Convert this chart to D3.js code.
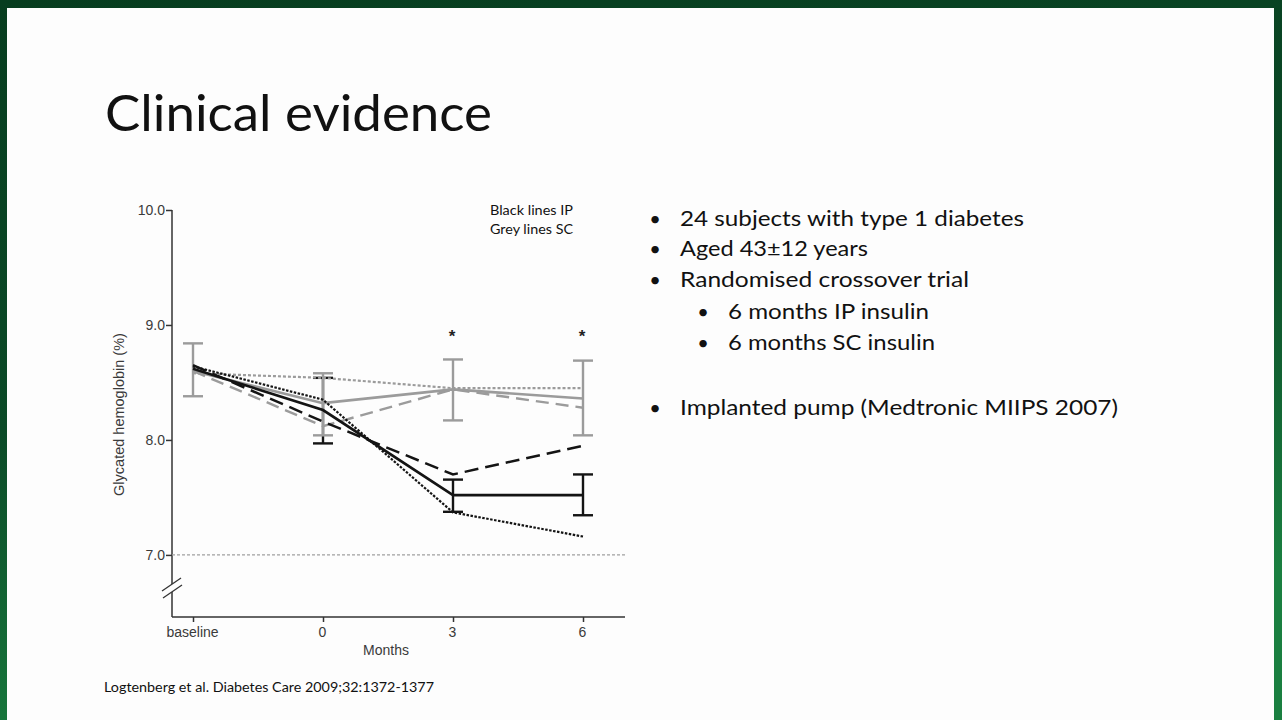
<!DOCTYPE html>
<html lang="en">
<head>
    <meta charset="UTF-8">
    <title>Clinical evidence</title>
    <script src="https://d3js.org/d3.v7.min.js"></script>
    <style>
        html, body { margin: 0; padding: 0; background: #0a4424; }
        svg { display: block; }
        .axis text { font-family: "Liberation Sans", Arial, sans-serif; font-size: 14px; fill: #3a3a3a; }
        .slide-text { font-family: Lato, "Open Sans", sans-serif; fill: #111; }
    </style>
</head>
<body>
    <svg width="1282" height="720"></svg>
    <script>
        // Data (HbA1c %, mean per timepoint)
        const timepoints = ["baseline", "0", "3", "6"];
        const yTicks = [7.0, 8.0, 9.0, 10.0];

        // IP = black lines
        const ipSolid  = [8.62, 8.26, 7.52, 7.52];
        const ipDashed = [8.65, 8.16, 7.70, 7.95];
        const ipDotted = [8.64, 8.35, 7.37, 7.16];
        const ipErrLow  = [null, 7.97, 7.375, 7.345];
        const ipErrHigh = [null, 8.54, 7.655, 7.70];

        // SC = grey lines
        const scSolid  = [8.60, 8.32, 8.44, 8.36];
        const scDashed = [8.60, 8.12, 8.44, 8.28];
        const scDotted = [8.58, 8.54, 8.45, 8.45];
        const scErrLow  = [8.38, 8.04, 8.17, 8.04];
        const scErrHigh = [8.84, 8.58, 8.70, 8.69];

        const significantAt = ["3", "6"];
        const referenceLevel = 7.0;

        const bullets = [
            "24 subjects with type 1 diabetes",
            "Aged 43\u00b112 years",
            "Randomised crossover trial",
            "6 months IP insulin",
            "6 months SC insulin",
            "Implanted pump (Medtronic MIIPS 2007)"
        ];

        const svg = d3.select("svg");

        // Slide background: green frame + white panel
        const defs = svg.append("defs");
        const grad = defs.append("linearGradient")
            .attr("id", "frame").attr("x1", 0).attr("y1", 0).attr("x2", 0.3).attr("y2", 1);
        grad.append("stop").attr("offset", "0%").attr("stop-color", "#073d1f");
        grad.append("stop").attr("offset", "55%").attr("stop-color", "#0b4a27");
        grad.append("stop").attr("offset", "100%").attr("stop-color", "#1a7f40");

        svg.append("rect").attr("width", 1282).attr("height", 720).attr("fill", "url(#frame)");
        svg.append("rect").attr("x", 7).attr("y", 8).attr("width", 1267).attr("height", 712).attr("fill", "#fdfdfd");

        // Title
        svg.append("text")
            .attr("class", "slide-text")
            .attr("x", 105).attr("y", 131)
            .attr("font-size", 51)
            .attr("textLength", 387).attr("lengthAdjust", "spacingAndGlyphs")
            .text("Clinical evidence");

        // Chart
        const xAxisY = 617, yAxisX = 172, xAxisEnd = 625;

        const x = d3.scalePoint()
            .domain(timepoints)
            .range([193, 583]);

        const y = d3.scaleLinear()
            .domain([6.46, 10])
            .range([xAxisY, 210]);

        const chart = svg.append("g");

        // Y axis
        const yAxis = chart.append("g")
            .attr("class", "axis")
            .attr("transform", `translate(${yAxisX},0)`)
            .call(d3.axisLeft(y).tickValues(yTicks).tickFormat(d3.format(".1f")).tickSize(6).tickSizeOuter(0));
        yAxis.select(".domain").remove();
        yAxis.selectAll(".tick line").attr("stroke", "#333").attr("stroke-width", 1.5);
        yAxis.selectAll(".tick text").attr("x", -7);
        chart.append("line")
            .attr("x1", yAxisX).attr("x2", yAxisX)
            .attr("y1", y(10)).attr("y2", xAxisY)
            .attr("stroke", "#333").attr("stroke-width", 1.5);

        // X axis
        const xAxis = chart.append("g")
            .attr("class", "axis")
            .attr("transform", `translate(0,${xAxisY})`)
            .call(d3.axisBottom(x).tickSize(5).tickSizeOuter(0));
        xAxis.select(".domain").remove();
        xAxis.selectAll(".tick line").attr("stroke", "#333").attr("stroke-width", 1.5);
        xAxis.selectAll(".tick text").attr("dy", "0.85em").attr("dx", "-1");
        chart.append("line")
            .attr("x1", yAxisX).attr("x2", xAxisEnd)
            .attr("y1", xAxisY).attr("y2", xAxisY)
            .attr("stroke", "#333").attr("stroke-width", 1.5);

        // Axis break on y axis
        chart.append("rect")
            .attr("x", yAxisX - 3).attr("y", 584).attr("width", 6).attr("height", 8)
            .attr("fill", "#fdfdfd");
        [[162, 591, 181, 578], [163, 598, 182, 585]].forEach(b => {
            chart.append("line")
                .attr("x1", b[0]).attr("y1", b[1]).attr("x2", b[2]).attr("y2", b[3])
                .attr("stroke", "#333").attr("stroke-width", 1.3);
        });

        // Axis titles
        chart.append("text")
            .attr("transform", `translate(124,${(y(10) + xAxisY) / 2 + 1}) rotate(-90)`)
            .attr("text-anchor", "middle")
            .attr("font-family", "'Liberation Sans', Arial, sans-serif")
            .attr("font-size", 14.5).attr("fill", "#3a3a3a")
            .text("Glycated hemoglobin (%)");

        chart.append("text")
            .attr("x", 386).attr("y", 655)
            .attr("text-anchor", "middle")
            .attr("font-family", "'Liberation Sans', Arial, sans-serif")
            .attr("font-size", 14).attr("fill", "#3a3a3a")
            .text("Months");

        // 7.0 target line
        chart.append("line")
            .attr("x1", yAxisX).attr("x2", xAxisEnd)
            .attr("y1", y(referenceLevel)).attr("y2", y(referenceLevel))
            .attr("stroke", "#a0a0a0").attr("stroke-width", 1.3)
            .attr("stroke-dasharray", "3,2");

        // Lines
        const line = d3.line()
            .x((d, i) => x(timepoints[i]))
            .y(d => y(d));

        const grey = "#9b9b9b", black = "#141414";

        function errorBars(lows, highs, color) {
            const g = chart.append("g").attr("stroke", color).attr("stroke-width", 2.4).attr("fill", "none");
            timepoints.forEach((t, i) => {
                if (lows[i] == null) return;
                const cx = x(t);
                g.append("line").attr("x1", cx).attr("x2", cx).attr("y1", y(lows[i])).attr("y2", y(highs[i]));
                g.append("line").attr("x1", cx - 10).attr("x2", cx + 10).attr("y1", y(lows[i])).attr("y2", y(lows[i]));
                g.append("line").attr("x1", cx - 10).attr("x2", cx + 10).attr("y1", y(highs[i])).attr("y2", y(highs[i]));
            });
        }

        function series(values, color, dash, width) {
            chart.append("path")
                .datum(values)
                .attr("fill", "none")
                .attr("stroke", color)
                .attr("stroke-width", width)
                .attr("stroke-dasharray", dash)
                .attr("d", line);
        }

        // error bars first (grey over black where they share a timepoint)
        errorBars(ipErrLow, ipErrHigh, black);
        errorBars(scErrLow, scErrHigh, grey);

        // SC (grey)
        series(scDotted, grey, "3,2", 2.2);
        series(scDashed, grey, "13,7", 2.4);
        series(scSolid, grey, null, 2.6);

        // IP (black)
        series(ipDotted, black, "2.5,1.5", 2.2);
        series(ipDashed, black, "14,7", 2.5);
        series(ipSolid, black, null, 2.6);

        // Significance markers
        chart.selectAll(".sig")
            .data(significantAt)
            .enter().append("text")
            .attr("class", "sig")
            .attr("x", d => x(d) - 1)
            .attr("y", y(8.92) + 8)
            .attr("text-anchor", "middle")
            .attr("font-family", "'Liberation Sans', Arial, sans-serif")
            .attr("font-size", 17).attr("font-weight", "bold").attr("fill", "#222")
            .text("*");

        // Legend note
        const note = chart.append("text")
            .attr("class", "slide-text")
            .attr("font-size", 13);
        note.append("tspan").attr("x", 490).attr("y", 215).attr("textLength", 83).attr("lengthAdjust", "spacingAndGlyphs").text("Black lines IP");
        note.append("tspan").attr("x", 490).attr("y", 234).attr("textLength", 83).attr("lengthAdjust", "spacingAndGlyphs").text("Grey lines SC");

        // Bullet list
        const bulletLayout = [
            { x: 680, y: 226, w: 344, level: 0 },
            { x: 680, y: 256, w: 188, level: 0 },
            { x: 680, y: 287, w: 289, level: 0 },
            { x: 728, y: 319, w: 201, level: 1 },
            { x: 728, y: 350, w: 207, level: 1 },
            { x: 680, y: 415, w: 438, level: 0 }
        ];
        const list = svg.append("g").attr("class", "slide-text");
        bullets.forEach((txt, i) => {
            const L = bulletLayout[i];
            list.append("text")
                .attr("x", L.level ? 703 : 655).attr("y", L.y)
                .attr("text-anchor", "middle")
                .attr("font-size", 20)
                .text("\u2022");
            list.append("text")
                .attr("x", L.x).attr("y", L.y)
                .attr("font-size", 22)
                .attr("textLength", L.w).attr("lengthAdjust", "spacingAndGlyphs")
                .text(txt);
        });

        // Citation
        svg.append("text")
            .attr("class", "slide-text")
            .attr("x", 104).attr("y", 692)
            .attr("font-size", 13.5)
            .attr("textLength", 330).attr("lengthAdjust", "spacingAndGlyphs")
            .text("Logtenberg et al. Diabetes Care 2009;32:1372-1377");
    </script>
</body>
</html>
